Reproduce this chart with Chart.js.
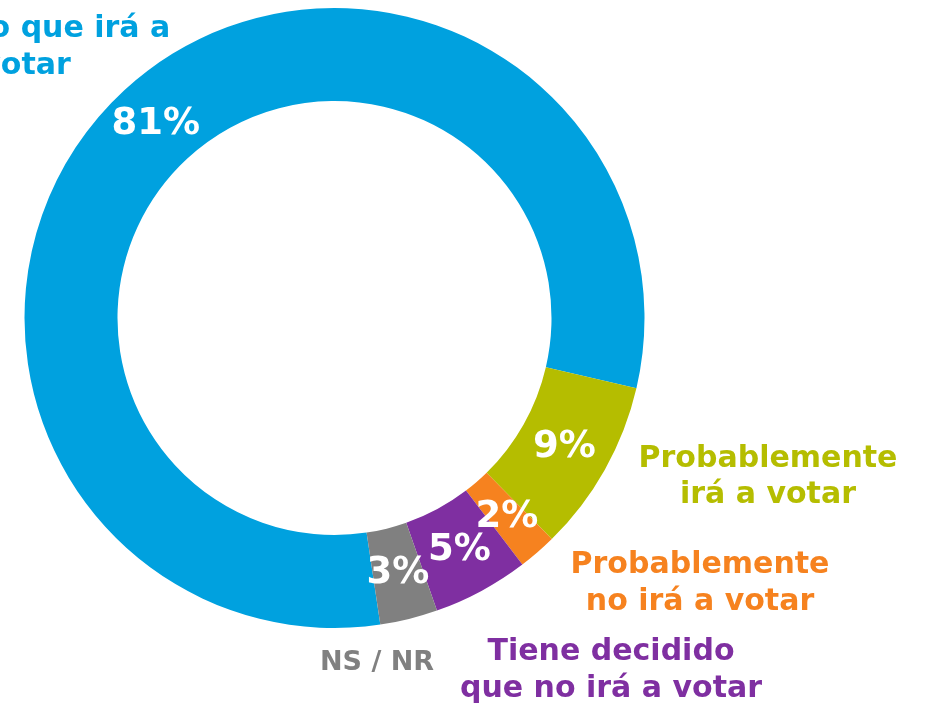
<!DOCTYPE html>
<html lang="es">
<head>
    <meta charset="UTF-8">
    <title>Intención de ir a votar</title>
    <script src="https://cdn.jsdelivr.net/npm/chart.js@4.4.0/dist/chart.umd.min.js"></script>
    <style>
        html, body { margin: 0; padding: 0; background: #fff; overflow: hidden; }
        #wrap { width: 927px; height: 707px; }
    </style>
</head>
<body>
<div id="wrap"><canvas id="myChart" width="927" height="707"></canvas></div>
<script>
    // data
    var categories = ['Está totalmente seguro que irá a votar', 'Probablemente irá a votar',
        'Probablemente no irá a votar', 'Tiene decidido que no irá a votar', 'NS / NR'];
    var values = [81, 9, 2, 5, 3];
    var colors = ['#00A1DF', '#B5BD00', '#F6821F', '#7F2FA1', '#808080'];
    // label lines as printed next to the ring
    var labelLines = [
        ['Está totalmente', 'seguro que irá a', 'votar'],
        ['Probablemente', 'irá a votar'],
        ['Probablemente', 'no irá a votar'],
        ['Tiene decidido', 'que no irá a votar'],
        ['NS / NR']
    ];

    var FONT = '"DejaVu Sans", sans-serif';

    var labelsPlugin = {
        id: 'labelsPlugin',
        afterDatasetsDraw: function (chart) {
            var ctx = chart.ctx;
            var meta = chart.getDatasetMeta(0);
            ctx.save();
            ctx.textAlign = 'center';
            ctx.textBaseline = 'middle';
            // percentages inside the ring
            ctx.fillStyle = '#fff';
            ctx.font = 'bold 37px ' + FONT;
            meta.data.forEach(function (arc, i) {
                var p = arc.tooltipPosition();
                ctx.fillText(values[i] + '%', p.x, p.y);
            });
            // outside labels: [centre x, first line y, line gap, font size]
            var pos = [[32, -8, 37, 30], [768, 459, 36, 30], [700, 565, 37, 30], [611, 652, 37, 30], [377, 663, 0, 27]];
            labelLines.forEach(function (lines, i) {
                ctx.fillStyle = colors[i];
                ctx.font = 'bold ' + pos[i][3] + 'px ' + FONT;
                lines.forEach(function (t, j) {
                    var x = pos[i][0];
                    if (i === 0 && j === 2) x -= 6; // last blue line, partly off the left edge
                    ctx.fillText(t, x, pos[i][1] + j * pos[i][2]);
                });
            });
            ctx.restore();
        }
    };

    var ctx = document.getElementById('myChart').getContext('2d');
    var chart = new Chart(ctx, {
        type: 'doughnut',
        data: {
            labels: categories,
            datasets: [{
                data: values,
                backgroundColor: colors,
                borderWidth: 0
            }]
        },
        options: {
            responsive: false,
            animation: false,
            cutout: '70%',
            rotation: 171.5,
            layout: { padding: { left: 24, top: 8, right: 282, bottom: 79 } },
            plugins: {
                legend: { display: false },
                tooltip: { enabled: false }
            }
        },
        plugins: [labelsPlugin]
    });
</script>
</body>
</html>
